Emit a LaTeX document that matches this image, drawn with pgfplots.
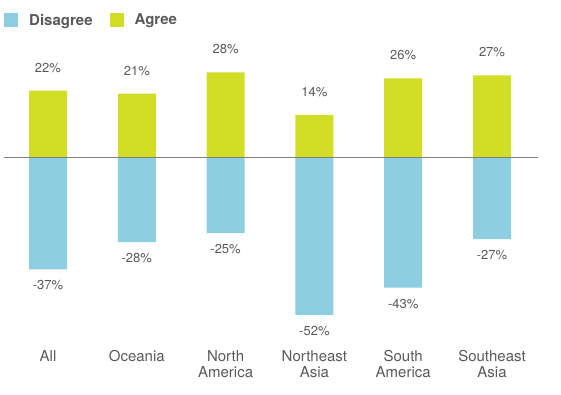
\documentclass[border=0pt]{standalone}
\usepackage{pgfplots}
\pgfplotsset{compat=1.18}
\usepackage{fontspec}
\setmainfont{TeX Gyre Heros}
\definecolor{agree}{HTML}{D2DE26}
\definecolor{disagree}{HTML}{8DCFE0}
\definecolor{txt}{HTML}{58595B}
\definecolor{zline}{HTML}{7F7F7F}
\begin{document}
\begin{tikzpicture}
\path[use as bounding box] (-4pt,-54.9pt) rectangle (557pt,339.1pt);
\begin{axis}[
  scale only axis, width=534pt, height=287.9pt,
  xmin=-0.4955, xmax=5.518, ymin=-60, ymax=35,
  axis line style={draw=none},
  ytick=\empty, xtick={0,...,5},
  xticklabels={All,Oceania,{North\\America},{Northeast\\Asia},{South\\America},{Southeast\\Asia}},
  major tick length=0pt,
  xticklabel style={font=\fontsize{15}{16}\selectfont, text=txt, align=center, anchor=north, yshift=-7.5pt},
  ybar, bar width=38pt,
  clip=false,
  legend style={at={(axis description cs:0,1)}, anchor=west, yshift=31pt, draw=none, fill=none,
    inner sep=0pt, legend columns=2, font=\fontsize{15}{16}\selectfont\bfseries, text=txt,
    /tikz/every odd column/.append style={column sep=9pt},
    /tikz/every even column/.append style={column sep=15pt}},
  legend image code/.code={\fill[#1] (0pt,-7pt) rectangle (14pt,7pt);},
  legend cell align=left,
]
\addplot[fill=disagree, draw=none, bar shift=0pt,
  nodes near coords, point meta=explicit symbolic,
  nodes near coords style={anchor=center, yshift=-16pt, text=txt, font=\fontsize{13}{14}\selectfont}]
  coordinates {(0,-37)[-37\%] (1,-28)[-28\%] (2,-25)[-25\%] (3,-52)[-52\%] (4,-43)[-43\%] (5,-27)[-27\%]};
\addlegendentry{Disagree}
\addplot[fill=agree, draw=none, bar shift=0pt,
  nodes near coords, point meta=explicit symbolic,
  nodes near coords style={anchor=center, yshift=23pt, text=txt, font=\fontsize{13}{14}\selectfont}]
  coordinates {(0,22)[22\%] (1,21)[21\%] (2,28)[28\%] (3,14)[14\%] (4,26)[26\%] (5,27)[27\%]};
\addlegendentry{Agree}
\draw[zline, line width=1pt] (axis cs:-0.4955,0) -- (axis cs:5.518,0);
\end{axis}
\end{tikzpicture}
\end{document}
